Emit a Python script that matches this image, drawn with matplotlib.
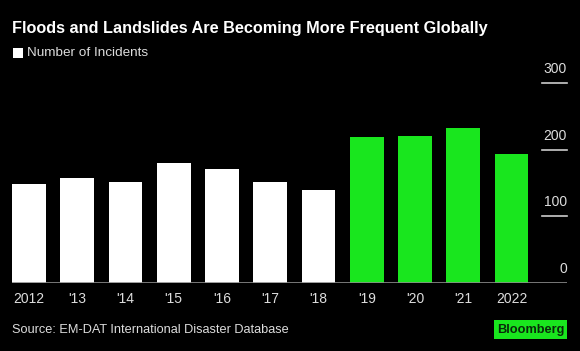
#!/usr/bin/env python3
"""Floods and landslides bar chart, Bloomberg dark style."""

import matplotlib.pyplot as plt
import matplotlib.transforms as mtransforms
from matplotlib.patches import Rectangle

plt.rcParams["font.family"] = ["Liberation Sans", "DejaVu Sans"]

YEARS = ["2012", "'13", "'14", "'15", "'16", "'17", "'18", "'19", "'20", "'21", "2022"]
INCIDENTS = [148, 158, 151, 180, 171, 151, 139, 219, 220, 233, 193]
HIGHLIGHT_FROM = 7  # 2019 onward drawn in green
Y_TICKS = [0, 100, 200, 300]

BG = "#000000"
GREEN = "#19e61e"
WHITE = "#ffffff"
W, H = 580, 351

fig = plt.figure(figsize=(W / 100, H / 100), dpi=100, facecolor=BG)
ax = fig.add_axes([12 / W, (H - 283.3) / H, (567 - 12) / W, (283.3 - 82.7) / H])
ax.set_facecolor(BG)

x = list(range(len(YEARS)))
colors = [WHITE if i < HIGHLIGHT_FROM else GREEN for i in x]
ax.bar(x, INCIDENTS, width=0.70, color=colors, zorder=2)

ax.set_xlim(-0.35, 11.15)
ax.set_ylim(0, 300)
for spine in ax.spines.values():
    spine.set_visible(False)
ax.set_yticks([])
ax.set_xticks(x)
ax.set_xticklabels(YEARS, color="#dddddd", fontsize=10)
ax.tick_params(axis="x", length=0, pad=6)

# baseline
ax.axhline(0, color="#8c8c8c", linewidth=1.2, zorder=3)

# right-side short gridlines with labels above
trans = mtransforms.blended_transform_factory(ax.transAxes, ax.transData)
for val in Y_TICKS:
    if val > 0:
        ax.plot([(542 - 12) / (567 - 12), 1.0], [val, val], transform=trans,
                color="#cccccc", linewidth=1.2, clip_on=False)
    ax.annotate(str(val), xy=(1.0, val), xycoords=trans, xytext=(0, 5),
                textcoords="offset points", ha="right", va="bottom",
                color="#dddddd", fontsize=10)

# title and legend
fig.text(12 / W, 1 - 28 / H, "Floods and Landslides Are Becoming More Frequent Globally",
         color=WHITE, fontsize=11.7, fontweight="bold", va="center", ha="left")
fig.patches.append(Rectangle((13 / W, 1 - 58 / H), 10 / W, 10 / H, transform=fig.transFigure,
                             facecolor=WHITE, edgecolor="none"))
fig.text(27 / W, 1 - 53.5 / H, "Number of Incidents", color="#dddddd", fontsize=9.7,
         va="center", ha="left")

# footer
fig.text(12 / W, 1 - 330 / H, "Source: EM-DAT International Disaster Database",
         color="#dddddd", fontsize=9.2, va="center", ha="left")
fig.patches.append(Rectangle((494 / W, 1 - 339 / H), 73 / W, 19 / H, transform=fig.transFigure,
                             facecolor=GREEN, edgecolor="none"))
fig.text(530.5 / W, 1 - 329.5 / H, "Bloomberg", color="#0a2a0a", fontsize=9.2,
         fontweight="bold", va="center", ha="center")

fig.savefig("out.png", dpi=100, facecolor=BG)
